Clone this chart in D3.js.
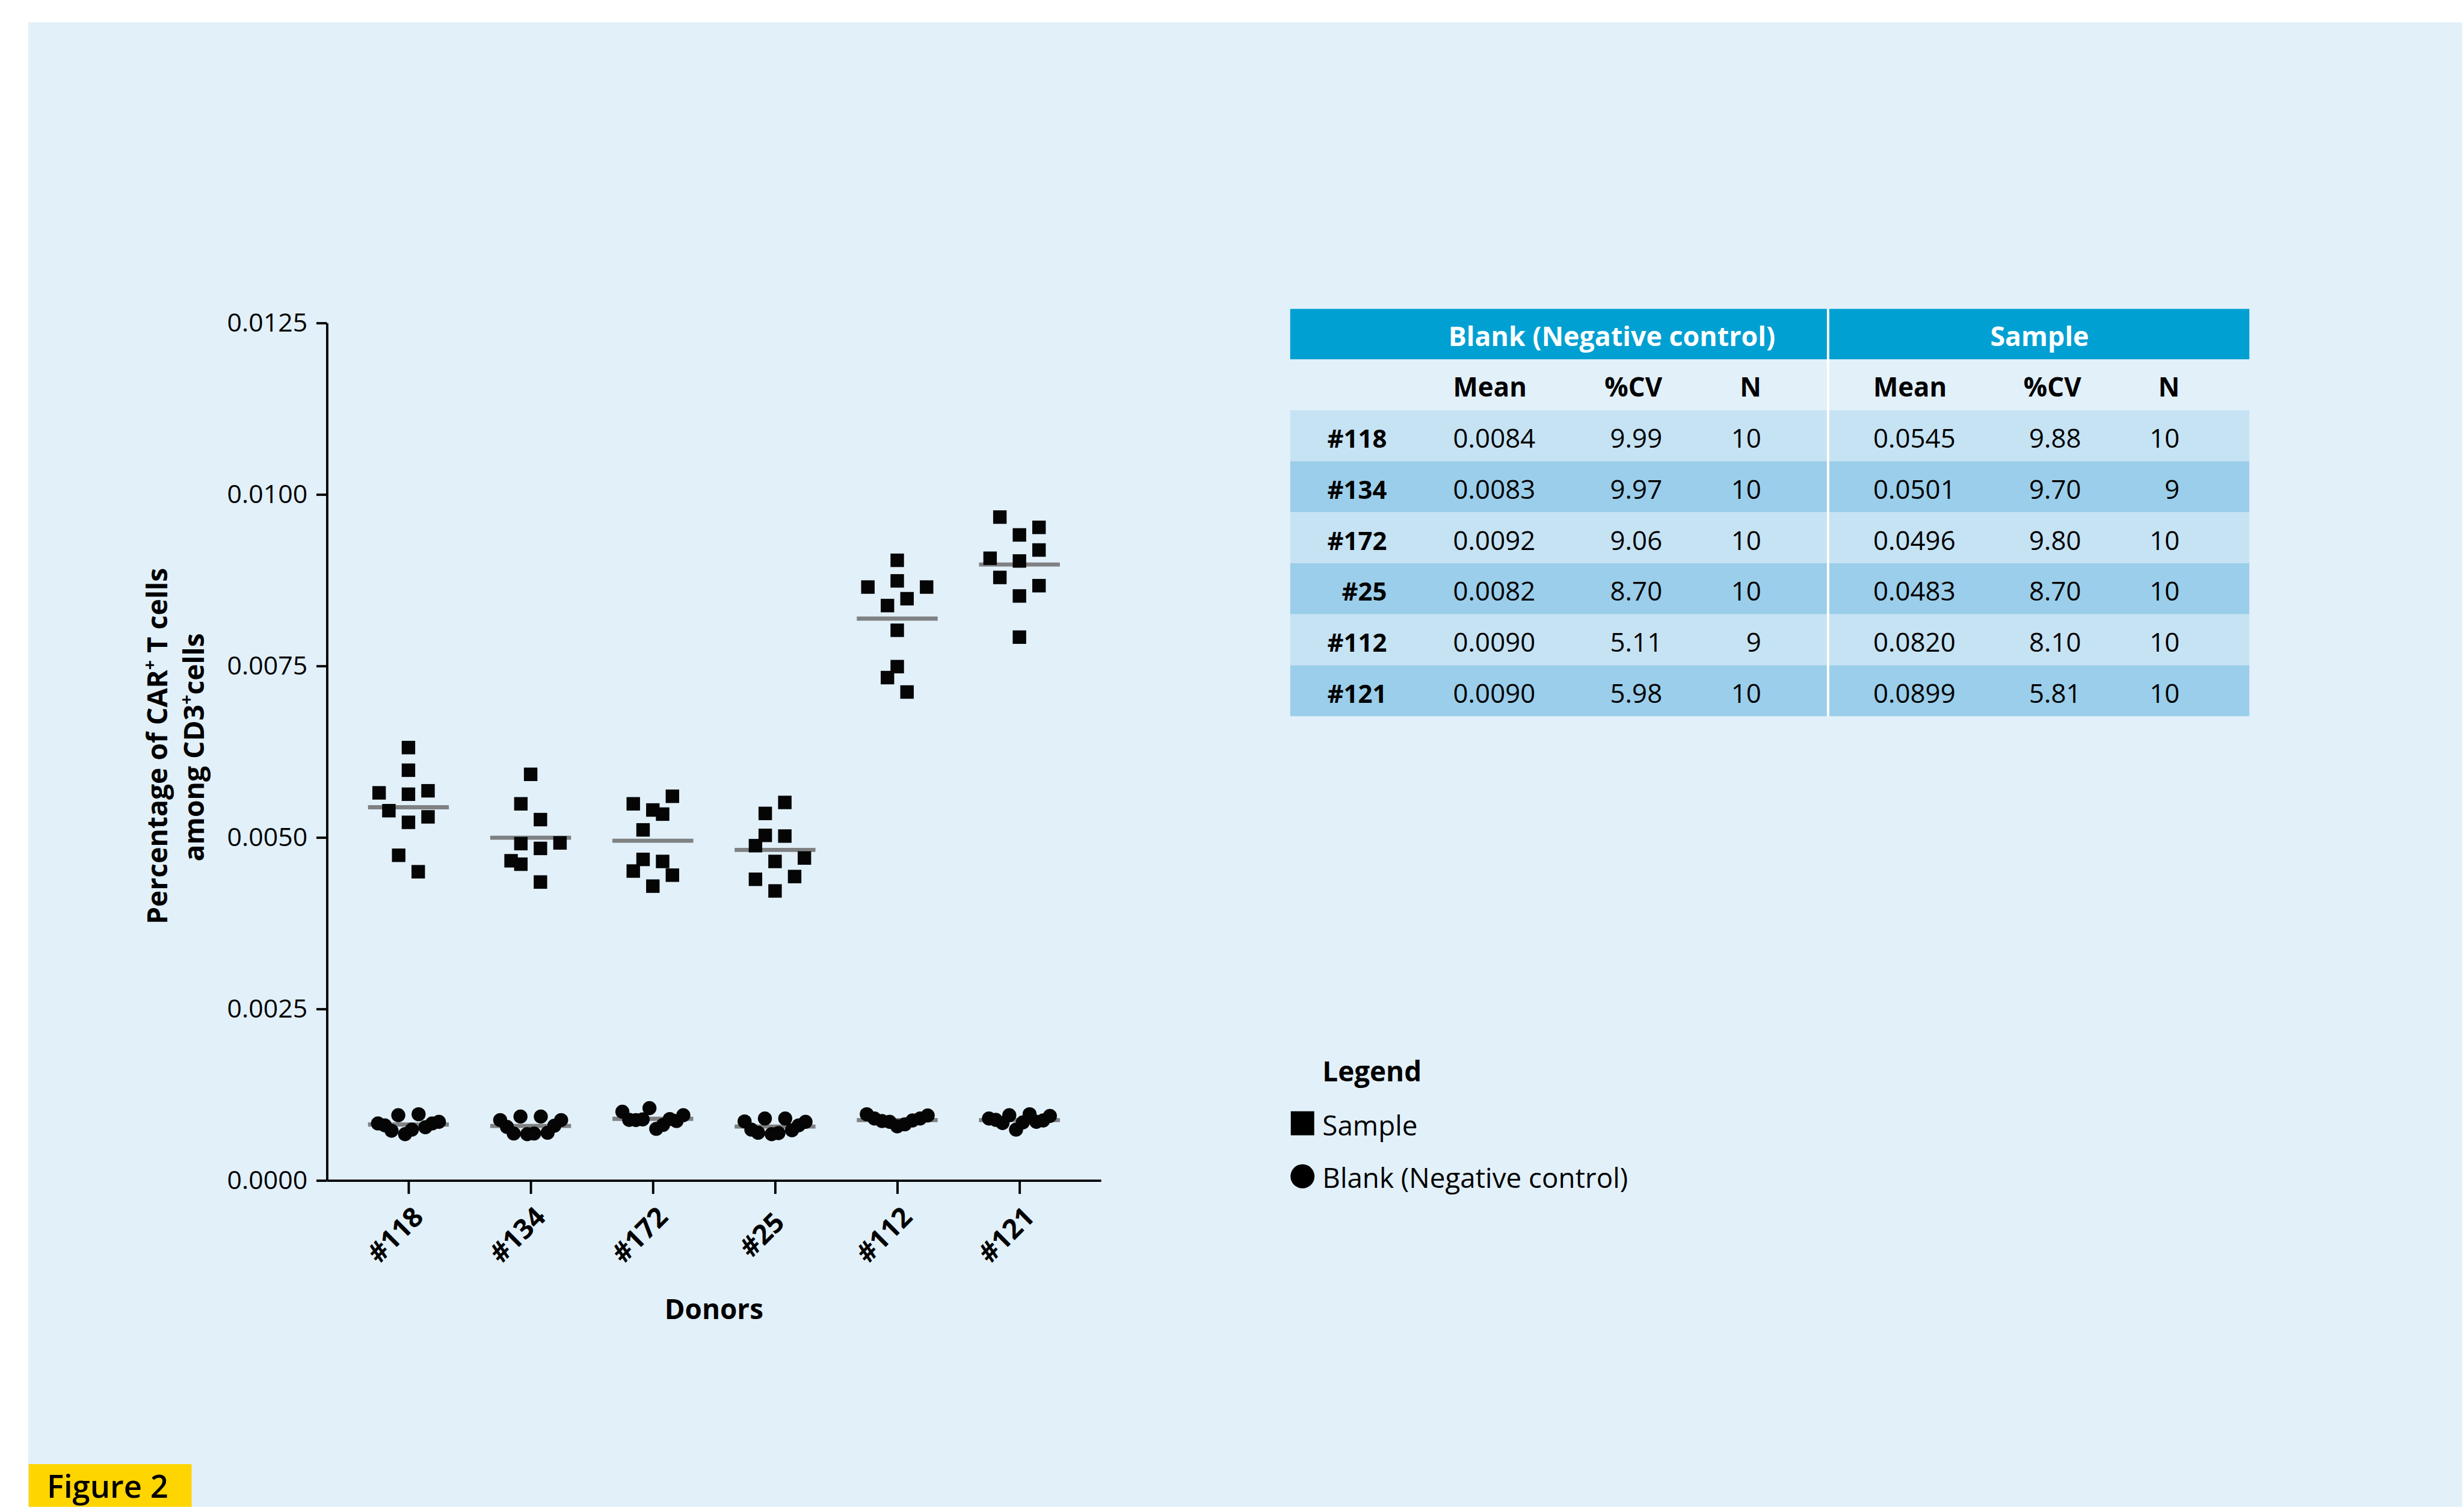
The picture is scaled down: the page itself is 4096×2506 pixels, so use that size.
<!DOCTYPE html>
<html>
<head>
<meta charset="utf-8">
<script src="https://cdn.jsdelivr.net/npm/d3@7"></script>
<style>
  html, body { margin: 0; padding: 0; background: #fff; }
  svg { display: block; font-family: 'Open Sans', 'Noto Sans', sans-serif; }
</style>
</head>
<body>
<script>
// donors on the x axis
const donors = ['#118', '#134', '#172', '#25', '#112', '#121'];

// y axis ticks
const yTicks = [0, 0.0025, 0.005, 0.0075, 0.01, 0.0125];

// sample replicates per donor
const sampleValues = [
  [0.00631, 0.00598, 0.00565, 0.00563, 0.00568, 0.00539, 0.00530, 0.00522, 0.00474, 0.00450],
  [0.00592, 0.00549, 0.00526, 0.00491, 0.00484, 0.00492, 0.00466, 0.00461, 0.00435],
  [0.00549, 0.00540, 0.00560, 0.00534, 0.00511, 0.00468, 0.00451, 0.00465, 0.00445, 0.00429],
  [0.00551, 0.00535, 0.00503, 0.00502, 0.00488, 0.00470, 0.00465, 0.00439, 0.00443, 0.00422],
  [0.00904, 0.00874, 0.00865, 0.00865, 0.00848, 0.00838, 0.00802, 0.00749, 0.00733, 0.00712],
  [0.00967, 0.00941, 0.00952, 0.00919, 0.00907, 0.00903, 0.00879, 0.00867, 0.00852, 0.00792]
];

// scatter column of each sample replicate (half-marker steps)
const sampleCols = [
  [0, 0, -3, 0, 2, -2, 2, 0, -1, 1],
  [0, -1, 1, -1, 1, 3, -2, -1, 1],
  [-2, 0, 2, 1, -1, -1, -2, 1, 2, 0],
  [1, -1, -1, 1, -2, 3, 0, -2, 2, 0],
  [0, 0, -3, 3, 1, -1, 0, 0, -1, 1],
  [-2, 0, 2, 2, -3, 0, -2, 2, 0, 0]
];

// blank replicates per donor, left to right
const blankValues = [
  [0.000831, 0.000803, 0.000724, 0.000951, 0.000675, 0.000741, 0.000965, 0.000775, 0.000831, 0.000854],
  [0.000880, 0.000780, 0.000684, 0.000931, 0.000675, 0.000684, 0.000931, 0.000695, 0.000797, 0.000880],
  [0.001002, 0.000883, 0.000880, 0.000889, 0.001054, 0.000752, 0.000809, 0.000895, 0.000866, 0.000951],
  [0.000860, 0.000741, 0.000695, 0.000903, 0.000675, 0.000690, 0.000903, 0.000732, 0.000803, 0.000854],
  [0.000965, 0.000903, 0.000866, 0.000854, 0.000789, 0.000818, 0.000874, 0.000903, 0.000946],
  [0.000903, 0.000883, 0.000837, 0.000951, 0.000741, 0.000846, 0.000965, 0.000854, 0.000874, 0.000940]
];

// summary table
const blankMean  = ['0.0084', '0.0083', '0.0092', '0.0082', '0.0090', '0.0090'];
const blankCV    = ['9.99', '9.97', '9.06', '8.70', '5.11', '5.98'];
const blankN     = ['10', '10', '10', '10', '9', '10'];
const sampleMean = ['0.0545', '0.0501', '0.0496', '0.0483', '0.0820', '0.0899'];
const sampleCV   = ['9.88', '9.70', '9.80', '8.70', '8.10', '5.81'];
const sampleN    = ['10', '9', '10', '10', '10', '10'];

const W = 4202;
const H = 2571;
const k = 0.974;

const svg = d3.select('body')
  .append('svg')
    .attr('width', 4096)
    .attr('height', 2506);

const root = svg.append('g').attr('transform', `scale(${k})`);

// background panel
root.append('rect').attr('width', W).attr('height', H).attr('fill', '#fff');
root.append('rect')
  .attr('x', 48).attr('y', 38)
  .attr('width', W - 48).attr('height', H - 38)
  .attr('fill', '#E2F0F9');

// scales
const x = d3.scalePoint().domain(donors).range([558, 1879]).padding(0.667);
const y = d3.scaleLinear().domain([0, 0.0125]).range([2014, 551]);
const col = d3.scaleLinear().domain([0, 1]).range([0, 16.7]);
const spread = d3.scalePoint().range([-52, 52]);

// y axis
const yAxis = root.append('g')
  .attr('transform', `translate(${x.range()[0]},0)`)
  .call(
    d3.axisLeft(y)
      .tickValues(yTicks)
      .tickFormat(d3.format('.4f'))
      .tickSize(18)
      .tickSizeOuter(0)
      .tickPadding(15)
  )
  .attr('font-family', null)
  .attr('font-size', 44);

yAxis.selectAll('path, line').attr('stroke', '#000').attr('stroke-width', 4);
yAxis.selectAll('text').attr('fill', '#000');

// x axis
const xAxis = root.append('g')
  .attr('transform', `translate(0,${y(0)})`)
  .call(d3.axisBottom(x).tickSize(23).tickSizeOuter(0))
  .attr('font-family', null)
  .attr('font-size', 47);

xAxis.selectAll('path, line').attr('stroke', '#000').attr('stroke-width', 4);
xAxis.selectAll('text')
  .attr('font-weight', 700)
  .attr('fill', '#000')
  .attr('text-anchor', 'middle')
  .attr('x', 0).attr('y', 0)
  .attr('dy', '0.35em')
  .attr('transform', 'translate(-23,93) rotate(-45)');

// axis titles
root.append('text')
  .attr('x', (x.range()[0] + x.range()[1]) / 2)
  .attr('y', 2250)
  .attr('text-anchor', 'middle')
  .attr('font-size', 47)
  .attr('font-weight', 700)
  .text('Donors');

const yTitle = root.append('g').attr('font-weight', 700).attr('font-size', 47.5);

const line1 = yTitle.append('text')
  .attr('transform', 'translate(285,1273) rotate(-90)')
  .attr('text-anchor', 'middle');
line1.append('tspan').text('Percentage of CAR');
line1.append('tspan').attr('font-size', 29).attr('dy', -19).text('+');
line1.append('tspan').attr('dy', 19).text(' T cells');

const line2 = yTitle.append('text')
  .attr('transform', 'translate(348,1275) rotate(-90)')
  .attr('text-anchor', 'middle');
line2.append('tspan').text('among CD3');
line2.append('tspan').attr('font-size', 29).attr('dy', -19).text('+');
line2.append('tspan').attr('dy', 19).text('cells');

// per-donor groups
const groups = donors.map((d, i) => ({
  donor:  d,
  sample: sampleValues[i].map((v, j) => ({ v, c: sampleCols[i][j] })),
  blank:  blankValues[i].map((v, j) => ({ v, j, n: blankValues[i].length }))
}));

const plot = root.append('g');

// mean lines
const meanLines = [
  ...groups.map((g) => ({ donor: g.donor, m: d3.mean(g.sample, (p) => p.v) })),
  ...groups.map((g) => ({ donor: g.donor, m: d3.mean(g.blank, (p) => p.v) }))
];

plot.selectAll('line.mean')
  .data(meanLines)
  .join('line')
    .attr('class', 'mean')
    .attr('x1', (d) => x(d.donor) - 69)
    .attr('x2', (d) => x(d.donor) + 69)
    .attr('y1', (d) => y(d.m))
    .attr('y2', (d) => y(d.m))
    .attr('stroke', '#7f8183')
    .attr('stroke-width', 7);

// sample squares
const sq = 23;
plot.selectAll('g.sample')
  .data(groups)
  .join('g')
    .attr('class', 'sample')
    .attr('transform', (g) => `translate(${x(g.donor)},0)`)
  .selectAll('rect')
  .data((g) => g.sample)
  .join('rect')
    .attr('x', (p) => col(p.c) - sq / 2)
    .attr('y', (p) => y(p.v) - sq / 2)
    .attr('width', sq)
    .attr('height', sq)
    .attr('fill', '#050505');

// blank circles
plot.selectAll('g.blank')
  .data(groups)
  .join('g')
    .attr('class', 'blank')
    .attr('transform', (g) => `translate(${x(g.donor)},0)`)
  .selectAll('circle')
  .data((g) => g.blank)
  .join('circle')
    .attr('cx', (p) => spread.domain(d3.range(p.n))(p.j))
    .attr('cy', (p) => y(p.v))
    .attr('r', 12)
    .attr('fill', '#050505');

// table
const table = root.append('g');

const tx0 = 2202;
const tx1 = 3839;
const tDiv = 3120;
const tTop = 527;
const headH = 86;
const rowH = 87;

const rowsData = donors.map((d, i) => ({
  label: d,
  cells: [blankMean[i], blankCV[i], blankN[i], sampleMean[i], sampleCV[i], sampleN[i]]
}));

const cols = [
  { x: 2480, anchor: 'start', head: 'Mean' },
  { x: 2837, anchor: 'end',   head: '%CV' },
  { x: 3006, anchor: 'end',   head: 'N' },
  { x: 3197, anchor: 'start', head: 'Mean' },
  { x: 3552, anchor: 'end',   head: '%CV' },
  { x: 3720, anchor: 'end',   head: 'N' }
];

// header band
table.append('rect')
  .attr('x', tx0).attr('y', tTop)
  .attr('width', tx1 - tx0).attr('height', headH)
  .attr('fill', '#00A0D2');

table.selectAll('text.group')
  .data([
    { t: 'Blank (Negative control)', x: 2751 },
    { t: 'Sample', x: 3481 }
  ])
  .join('text')
    .attr('class', 'group')
    .attr('x', (d) => d.x)
    .attr('y', tTop + 63)
    .attr('text-anchor', 'middle')
    .attr('font-size', 46)
    .attr('font-weight', 700)
    .attr('fill', '#fff')
    .text((d) => d.t);

// column headings
table.selectAll('text.head')
  .data(cols)
  .join('text')
    .attr('class', 'head')
    .attr('x', (d) => d.x)
    .attr('y', tTop + headH + 64)
    .attr('text-anchor', (d) => d.anchor)
    .attr('font-size', 45)
    .attr('font-weight', 700)
    .text((d) => d.head);

// data rows
const rowTop = tTop + headH + rowH;
const rows = table.selectAll('g.row')
  .data(rowsData)
  .join('g')
    .attr('class', 'row')
    .attr('transform', (d, i) => `translate(0,${rowTop + i * rowH})`);

rows.append('rect')
  .attr('x', tx0)
  .attr('width', tx1 - tx0)
  .attr('height', rowH)
  .attr('fill', (d, i) => (i % 2 ? '#9BCEEA' : '#C6E3F4'));

rows.append('text')
  .attr('x', 2367)
  .attr('y', 64)
  .attr('text-anchor', 'end')
  .attr('font-size', 43)
  .attr('font-weight', 700)
  .text((d) => d.label);

rows.selectAll('text.cell')
  .data((d) => d.cells.map((t, j) => ({ t, c: cols[j] })))
  .join('text')
    .attr('class', 'cell')
    .attr('x', (d) => d.c.x)
    .attr('y', 64)
    .attr('text-anchor', (d) => d.c.anchor)
    .attr('font-size', 45)
    .text((d) => d.t);

// white divider between blank and sample
table.append('line')
  .attr('x1', tDiv).attr('x2', tDiv)
  .attr('y1', tTop).attr('y2', rowTop + rowsData.length * rowH)
  .attr('stroke', '#fff')
  .attr('stroke-width', 4);

// legend
const legend = root.append('g');

legend.append('text')
  .attr('x', 2257).attr('y', 1845)
  .attr('font-size', 47)
  .attr('font-weight', 700)
  .text('Legend');

legend.append('rect')
  .attr('x', 2203).attr('y', 1896)
  .attr('width', 40).attr('height', 41)
  .attr('fill', '#000');

legend.append('text')
  .attr('x', 2257).attr('y', 1937)
  .attr('font-size', 47)
  .text('Sample');

legend.append('circle')
  .attr('cx', 2223).attr('cy', 2007)
  .attr('r', 20.5)
  .attr('fill', '#000');

legend.append('text')
  .attr('x', 2257).attr('y', 2027)
  .attr('font-size', 47)
  .text('Blank (Negative control)');

// figure label
root.append('rect')
  .attr('x', 49).attr('y', 2498)
  .attr('width', 278).attr('height', H - 2498)
  .attr('fill', '#FFD500');

root.append('text')
  .attr('x', 80).attr('y', 2555)
  .attr('font-size', 54)
  .attr('font-weight', 600)
  .text('Figure 2');
</script>
</body>
</html>
